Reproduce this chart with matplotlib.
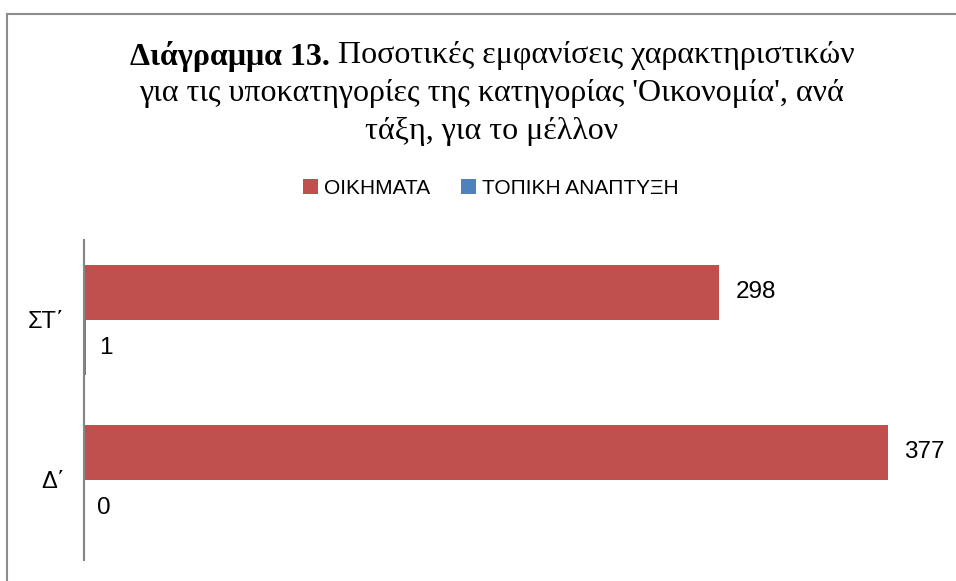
import matplotlib.pyplot as plt
from matplotlib.lines import Line2D

categories = ['Δ΄', 'ΣΤ΄']
oikimata = [377, 298]
topiki = [0, 1]
series_names = ['ΟΙΚΗΜΑΤΑ', 'ΤΟΠΙΚΗ ΑΝΑΠΤΥΞΗ']
title_bold = 'Διάγραμμα 13.'
title_rest = ' Ποσοτικές εμφανίσεις χαρακτηριστικών'
title_lines = ["για τις υποκατηγορίες της κατηγορίας 'Οικονομία', ανά",
               'τάξη, για το μέλλον']

W, H = 956, 581
fig = plt.figure(figsize=(W / 100, H / 100), dpi=100)
fig.patch.set_facecolor('white')

# outer chart frame (cropped on right and bottom)
fig.add_artist(Line2D([7 / W, 7 / W], [0, 1 - 14 / H], color='#8c8c8c', lw=1.5))
fig.add_artist(Line2D([7 / W, 1], [1 - 14 / H, 1 - 14 / H], color='#8c8c8c', lw=1.5))

ax = fig.add_axes([84 / W, 1 - 560 / H, (935 - 84) / W, 320 / H])
h = 55 / 160
y = list(range(len(categories)))
red = '#C0504D'
blue = '#4F81BD'
ax.barh([v + h / 2 for v in y], oikimata, height=h, color=red, label=series_names[0])
ax.barh([v - h / 2 for v in y], topiki, height=h, color=blue, label=series_names[1])

ax.set_ylim(-0.5, 1.5)
ax.set_xlim(0, (935 - 84) / 2.132)
for s in ['top', 'right', 'bottom']:
    ax.spines[s].set_visible(False)
ax.spines['left'].set_color('#868686')
ax.spines['left'].set_linewidth(1.5)
ax.set_xticks([])
ax.set_yticks(y)
ax.set_yticklabels(categories, fontsize=17, family='Liberation Sans')
ax.tick_params(axis='y', length=0, pad=14)

for i in y:
    ax.annotate(str(oikimata[i]), (oikimata[i], i + h / 2), xytext=(12, 0),
                textcoords='offset points', va='center', ha='left',
                fontsize=17.5, family='Liberation Sans')
    ax.annotate(str(topiki[i]), (topiki[i], i - h / 2), xytext=(9, 0),
                textcoords='offset points', va='center', ha='left',
                fontsize=17.5, family='Liberation Sans')

handles, labels = ax.get_legend_handles_labels()
fig.legend(handles, labels, loc='center', bbox_to_anchor=(491 / W, 1 - 188 / H),
           ncol=2, frameon=False, prop={'family': 'Liberation Sans', 'size': 15},
           handlelength=0.7, handleheight=0.7, handletextpad=0.3, columnspacing=1.5)

# title, first line has a bold part
cx = 492
fig.canvas.draw()
r = fig.canvas.get_renderer()
tb = fig.text(0, 1 - 56 / H, title_bold, fontsize=23, fontweight='bold',
              family='Liberation Serif', va='center', ha='left')
tr = fig.text(0, 1 - 56 / H, title_rest, fontsize=23,
              family='Liberation Serif', va='center', ha='left')
wb = tb.get_window_extent(r).width
wr = tr.get_window_extent(r).width
x0 = cx - (wb + wr) / 2
tb.set_x(x0 / W)
tr.set_x((x0 + wb) / W)
for k, line in enumerate(title_lines):
    fig.text(cx / W, 1 - (94 + 37 * k) / H, line, fontsize=23,
             family='Liberation Serif', va='center', ha='center')

fig.savefig('out.png', dpi=100)
